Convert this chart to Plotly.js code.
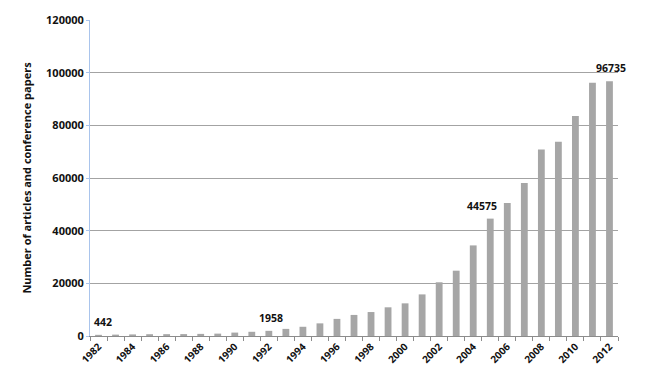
<!DOCTYPE html>
<html>
<head>
<meta charset="utf-8">
<script src="https://cdn.plot.ly/plotly-3.0.1.min.js"></script>
<style>html,body{margin:0;padding:0;background:#fff;}#chart{width:650px;height:380px;}</style>
</head>
<body>
<div id="chart"></div>
<script>
const years = [1982,1983,1984,1985,1986,1987,1988,1989,1990,1991,1992,1993,1994,1995,1996,1997,1998,1999,2000,2001,2002,2003,2004,2005,2006,2007,2008,2009,2010,2011,2012];
const papers = [442,520,600,680,700,720,800,900,1300,1600,1958,2700,3500,4800,6500,8000,9100,10900,12400,15800,20400,24800,34400,44575,50500,58100,70800,73800,83500,96200,96735];
const labelledYears = [1982,1992,2005,2012];
const labelShiftX = [4,2,-8,2];

const fontFam = '"Open Sans", "Liberation Sans", sans-serif';

const annotations = labelledYears.map((yr, i) => {
  const v = papers[years.indexOf(yr)];
  return {
    x: yr, y: v, xref: 'x', yref: 'y',
    text: '<b>' + v + '</b>', showarrow: false,
    yanchor: 'bottom', xanchor: 'center',
    xshift: labelShiftX[i], yshift: 4,
    font: {family: fontFam, size: 10.5, color: '#111'}
  };
});

const data = [{
  type: 'bar', x: years, y: papers,
  marker: {color: '#a6a6a6'},
  hoverinfo: 'x+y'
}];

const layout = {
  width: 650, height: 380,
  margin: {l: 90, r: 32, t: 20, b: 44},
  paper_bgcolor: '#fff', plot_bgcolor: '#fff',
  bargap: 0.6,
  showlegend: false,
  xaxis: {
    range: [1981.5, 2012.5],
    tick0: 1982, dtick: 2, tickmode: 'linear',
    tickangle: -45,
    ticks: '',
    showgrid: false,
    showline: true, linecolor: '#8c8c8c', linewidth: 1,
    zeroline: false,
    tickfont: {family: fontFam, size: 10, color: '#111', weight: 'bold'},
    minor: {tick0: 1981.5, dtick: 1, ticks: 'outside', ticklen: 4, tickcolor: '#8c8c8c', showgrid: false}
  },
  yaxis: {
    range: [0, 120000],
    dtick: 20000, tick0: 0, tickformat: 'd',
    showgrid: true, gridcolor: '#a3a3a3', gridwidth: 1,
    zeroline: false,
    showline: true, linecolor: '#a9c4ec', linewidth: 1,
    ticks: 'outside', ticklen: 3, tickcolor: '#a9c4ec',
    tickfont: {family: fontFam, size: 11, color: '#111', weight: 'bold'},
    title: {text: '<b>Number of articles and conference papers</b>', font: {family: fontFam, size: 11, color: '#111'}, standoff: 12}
  },
  annotations: annotations
};

Plotly.newPlot('chart', data, layout, {displayModeBar: false, staticPlot: true});
</script>
</body>
</html>
